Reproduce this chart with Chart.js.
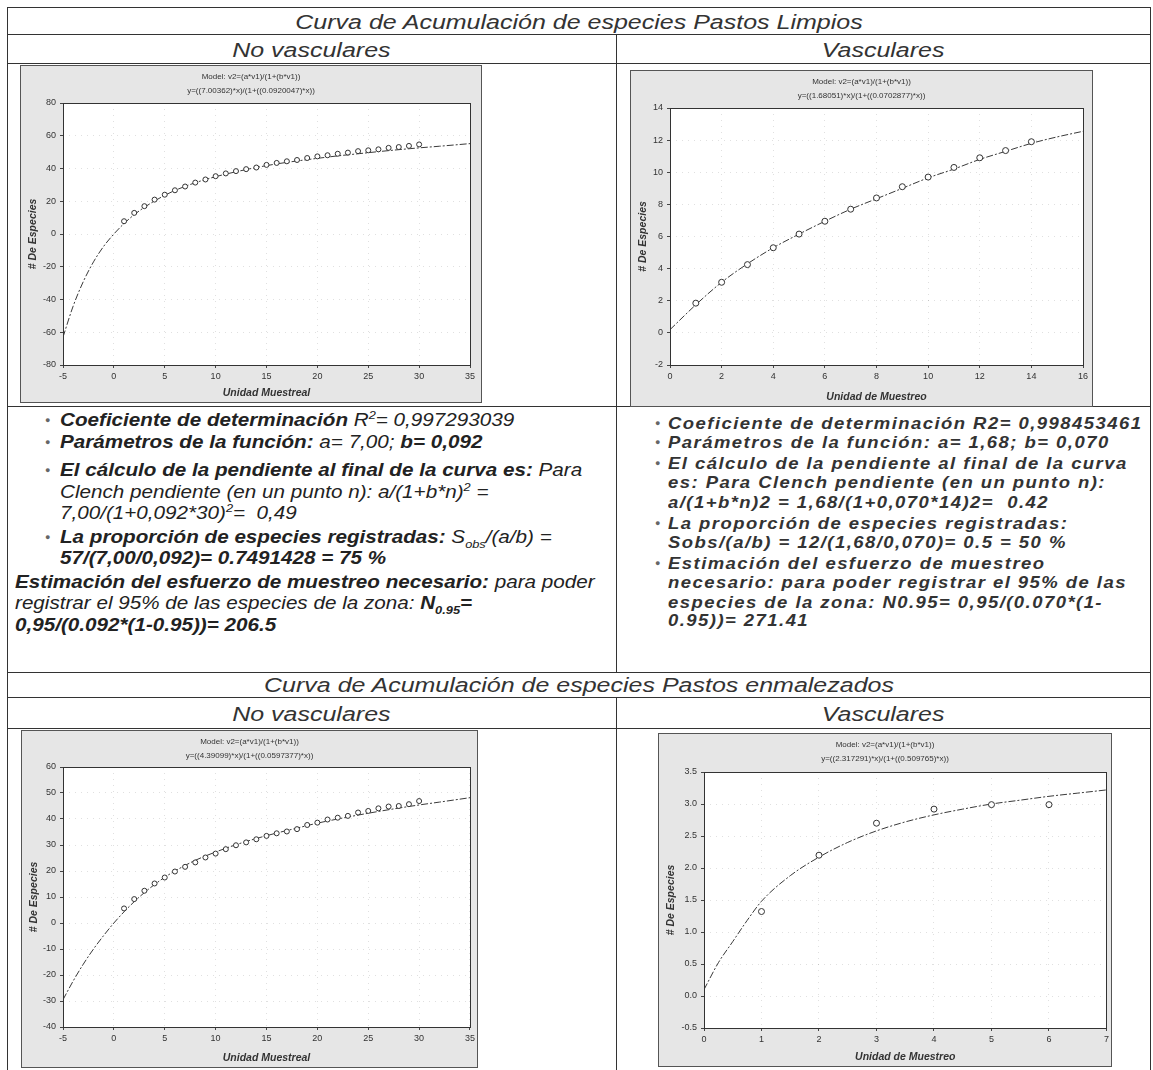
<!DOCTYPE html>
<html>
<head>
<meta charset="utf-8">
<script src="https://cdn.jsdelivr.net/npm/chart.js@4.4.1/dist/chart.umd.min.js"></script>
<style>
  body { margin:0; background:#fff; width:1153px; height:1070px; overflow:hidden; position:relative;
         font-family:"Liberation Sans", Arial, sans-serif; color:#222; }
  .hl { position:absolute; height:0; border-top:1.5px solid #333; }
  .vl { position:absolute; width:0; border-left:1.5px solid #333; }
  .hdr { position:absolute; text-align:center; font-style:italic; font-size:20px; line-height:24px; white-space:nowrap; color:#333; }
  .hdr span { display:inline-block; transform:scaleX(1.25); }
  .ln { position:absolute; white-space:nowrap; font-style:italic; line-height:20px; height:20px; transform-origin:0 50%; }
  .lt { font-size:17.5px; transform:scaleX(1.18); }
  .rt { font-size:16.5px; font-weight:bold; letter-spacing:1.3px; transform:scaleX(1.12); color:#333; }
  .bul { position:absolute; font-size:9px; line-height:20px; color:#666; }
  sup, sub { font-size:0.62em; line-height:0; }
  canvas { position:absolute; }
</style>
</head>
<body>

<!-- table lines -->
<div class="hl" style="left:7px;width:1143px;top:7px"></div>
<div class="hl" style="left:7px;width:1143px;top:34px"></div>
<div class="hl" style="left:7px;width:1143px;top:63px"></div>
<div class="hl" style="left:7px;width:1143px;top:406px"></div>
<div class="hl" style="left:7px;width:1143px;top:672px"></div>
<div class="hl" style="left:7px;width:1143px;top:697px"></div>
<div class="hl" style="left:7px;width:1143px;top:728px"></div>
<div class="vl" style="left:7px;top:7px;height:1063px"></div>
<div class="vl" style="left:1150px;top:7px;height:1063px"></div>
<div class="vl" style="left:616px;top:34px;height:638px"></div>
<div class="vl" style="left:616px;top:697px;height:373px"></div>

<!-- headers -->
<div class="hdr" style="left:7px;width:1143px;top:10px"><span>Curva de Acumulación de especies Pastos Limpios</span></div>
<div class="hdr" style="left:7px;width:609px;top:38px"><span>No vasculares</span></div>
<div class="hdr" style="left:616px;width:534px;top:38px"><span>Vasculares</span></div>
<div class="hdr" style="left:7px;width:1143px;top:673px"><span>Curva de Acumulación de especies Pastos enmalezados</span></div>
<div class="hdr" style="left:7px;width:609px;top:702px"><span>No vasculares</span></div>
<div class="hdr" style="left:616px;width:534px;top:702px"><span>Vasculares</span></div>

<!-- left text -->
<div class="bul" style="left:45px;top:410px">●</div>
<div class="ln lt" style="left:60px;top:410px"><b>Coeficiente de determinación</b> R<sup>2</sup>= 0,997293039</div>
<div class="bul" style="left:45px;top:432px">●</div>
<div class="ln lt" style="left:60px;top:432px"><b>Parámetros de la función:</b> a= 7,00; <b>b= 0,092</b></div>
<div class="bul" style="left:45px;top:460px">●</div>
<div class="ln lt" style="left:60px;top:460px"><b>El cálculo de la pendiente al final de la curva es:</b> Para</div>
<div class="ln lt" style="left:60px;top:482px">Clench pendiente (en un punto n): a/(1+b*n)<sup>2</sup> =</div>
<div class="ln lt" style="left:60px;top:503px">7,00/(1+0,092*30)<sup>2</sup>=&nbsp; 0,49</div>
<div class="bul" style="left:45px;top:527px">●</div>
<div class="ln lt" style="left:60px;top:527px"><b>La proporción de especies registradas:</b> S<sub>obs</sub>/(a/b) =</div>
<div class="ln lt" style="left:60px;top:548px"><b>57/(7,00/0,092)= 0.7491428 = 75 %</b></div>
<div class="ln lt" style="left:15px;top:572px"><b>Estimación del esfuerzo de muestreo necesario:</b> para poder</div>
<div class="ln lt" style="left:15px;top:593px">registrar el 95% de las especies de la zona: <b>N<sub>0.95</sub>=</b></div>
<div class="ln lt" style="left:15px;top:615px"><b>0,95/(0.092*(1-0.95))= 206.5</b></div>

<!-- right text -->
<div class="bul" style="left:655px;top:413px">●</div>
<div class="ln rt" style="left:668px;top:413px">Coeficiente de determinación R2= 0,998453461</div>
<div class="bul" style="left:655px;top:432px">●</div>
<div class="ln rt" style="left:668px;top:432px">Parámetros de la función: a= 1,68; b= 0,070</div>
<div class="bul" style="left:655px;top:453px">●</div>
<div class="ln rt" style="left:668px;top:453px">El cálculo de la pendiente al final de la curva</div>
<div class="ln rt" style="left:668px;top:472px">es: Para Clench pendiente (en un punto n):</div>
<div class="ln rt" style="left:668px;top:492px">a/(1+b*n)2 = 1,68/(1+0,070*14)2=&nbsp; 0.42</div>
<div class="bul" style="left:655px;top:513px">●</div>
<div class="ln rt" style="left:668px;top:513px">La proporción de especies registradas:</div>
<div class="ln rt" style="left:668px;top:532px">Sobs/(a/b) = 12/(1,68/0,070)= 0.5 = 50 %</div>
<div class="bul" style="left:655px;top:553px">●</div>
<div class="ln rt" style="left:668px;top:553px">Estimación del esfuerzo de muestreo</div>
<div class="ln rt" style="left:668px;top:572px">necesario: para poder registrar el 95% de las</div>
<div class="ln rt" style="left:668px;top:592px">especies de la zona: N0.95= 0,95/(0.070*(1-</div>
<div class="ln rt" style="left:668px;top:610px">0.95))= 271.41</div>

<canvas id="tl" width="462" height="338" style="left:20px;top:65px"></canvas>
<canvas id="tr" width="463" height="337" style="left:630px;top:70px"></canvas>
<canvas id="bl" width="457" height="338" style="left:21px;top:730px"></canvas>
<canvas id="br" width="454" height="334" style="left:658px;top:733px"></canvas>

<script>
// Pastos Limpios - No vasculares
const tlPtsX = [1,2,3,4,5,6,7,8,9,10,11,12,13,14,15,16,17,18,19,20,21,22,23,24,25,26,27,28,29,30];
const tlPtsY = [7.8,12.9,17,21,24,26.7,29,31.4,33.3,35.3,37,38.4,39.6,40.6,42.2,43.4,44.4,45.2,46.4,47.4,48.1,49,49.7,50.6,51.1,51.7,52.6,53.1,53.8,54.7];
const tlCurveX = [-5,-4,-3,-2,-1,0,1,2,3,4,5,6,8,10,12,14,16,18,20,22,24,26,28,30,32,35];
const tlCurveY = [-63,-44,-29,-17,-7.5,0,6.4,11.8,16.3,20.2,23.6,26.6,31.3,35,38,40.6,42.8,44.6,46.2,47.7,49,50.3,51.5,52.6,53.6,55.2];
const tlXTicks = [-5,0,5,10,15,20,25,30,35];
const tlYTicks = [-80,-60,-40,-20,0,20,40,60,80];

// Pastos Limpios - Vasculares
const trPtsX = [1,2,3,4,5,6,7,8,9,10,11,12,13,14];
const trPtsY = [1.85,3.15,4.25,5.3,6.15,6.95,7.7,8.4,9.1,9.7,10.3,10.9,11.35,11.9];
const trCurveX = [0,1,2,3,4,5,6,7,8,9,10,11,12,13,14,15,16];
const trCurveY = [0.2,1.75,3.15,4.3,5.3,6.15,6.95,7.7,8.35,9.0,9.65,10.2,10.8,11.3,11.8,12.2,12.55];
const trXTicks = [0,2,4,6,8,10,12,14,16];
const trYTicks = [-2,0,2,4,6,8,10,12,14];

// Pastos enmalezados - No vasculares
const blPtsX = [1,2,3,4,5,6,7,8,9,10,11,12,13,14,15,16,17,18,19,20,21,22,23,24,25,26,27,28,29,30];
const blPtsY = [5.6,9.2,12.4,15.2,17.5,19.8,21.6,23.3,25.2,26.7,28.4,29.9,31,32.2,33.5,34.5,35.2,36.1,37.7,38.6,39.8,40.5,41.2,42.5,43.1,44.1,44.8,45,45.7,46.9];
const blCurveX = [-5,-4,-3,-2,-1,0,1,2,3,4,5,6,8,10,12,14,16,18,20,22,24,26,28,30,32,35];
const blCurveY = [-29.5,-22.3,-15.8,-10,-4.8,0,4.3,8.2,11.7,14.8,17.6,20,24.1,27.3,30.1,32.5,34.6,36.5,38.4,40,41.5,42.9,44.2,45.4,46.5,48.2];
const blXTicks = [-5,0,5,10,15,20,25,30,35];
const blYTicks = [-40,-30,-20,-10,0,10,20,30,40,50,60];

// Pastos enmalezados - Vasculares
const brPtsX = [1,2,3,4,5,6];
const brPtsY = [1.32,2.2,2.7,2.92,2.99,2.99];
const brCurveX = [0,0.25,0.5,0.75,1,1.5,2,2.5,3,3.5,4,4.5,5,5.5,6,6.5,7];
const brCurveY = [0.1,0.52,0.85,1.18,1.48,1.88,2.17,2.4,2.58,2.72,2.83,2.92,3.0,3.06,3.12,3.17,3.22];
const brXTicks = [0,1,2,3,4,5,6,7];
const brYTicks = [-0.5,0,0.5,1,1.5,2,2.5,3,3.5];

const framePlugin = {
  id: 'frame',
  beforeDraw(chart) {
    const { ctx, chartArea: a, width, height } = chart;
    ctx.save();
    ctx.fillStyle = '#e6e6e6';
    ctx.fillRect(0, 0, width, height);
    ctx.fillStyle = '#fff';
    ctx.fillRect(a.left, a.top, a.right - a.left, a.bottom - a.top);
    ctx.restore();
  },
  afterDraw(chart, args, opts) {
    const { ctx, chartArea: a, width, height } = chart;
    ctx.save();
    ctx.strokeStyle = '#333';
    ctx.lineWidth = 1;
    ctx.strokeRect(Math.round(a.left) + 0.5, Math.round(a.top) + 0.5, Math.round(a.right - a.left), Math.round(a.bottom - a.top));
    ctx.strokeStyle = '#555';
    ctx.strokeRect(0.5, 0.5, width - 1, height - 1);
    ctx.fillStyle = '#333';
    ctx.font = '8px "Liberation Sans"';
    ctx.textAlign = 'center';
    ctx.textBaseline = 'middle';
    opts.lines.forEach((t, i) => ctx.fillText(t, width / 2, 12 + i * 14));
    ctx.restore();
  }
};

function plot(id, c) {
  const tickFont = { family: 'Liberation Sans', size: 9 };
  const titleFont = { family: 'Liberation Sans', size: 10.5, style: 'italic', weight: 'bold' };
  new Chart(document.getElementById(id), {
    type: 'scatter',
    data: {
      datasets: [
        { data: c.curveX.map((x, i) => ({ x, y: c.curveY[i] })), showLine: true, pointRadius: 0,
          borderColor: '#3a3a3a', borderWidth: 1, cubicInterpolationMode: 'monotone',
          borderDash: [7, 2, 2, 2], order: 2 },
        { data: c.ptsX.map((x, i) => ({ x, y: c.ptsY[i] })), pointRadius: c.r,
          borderColor: '#333', backgroundColor: '#fff', borderWidth: 1, order: 1 }
      ]
    },
    options: {
      responsive: false,
      animation: false,
      events: [],
      layout: { padding: { top: c.pad[0], right: c.pad[1], bottom: 0, left: 0 } },
      plugins: { legend: { display: false }, tooltip: { enabled: false }, frame: { lines: c.model } },
      scales: {
        x: {
          type: 'linear', min: c.xTicks[0], max: c.xTicks[c.xTicks.length - 1],
          afterBuildTicks: s => { s.ticks = c.xTicks.map(v => ({ value: v })); },
          afterFit: s => { s.height = c.xh; },
          ticks: { font: tickFont, color: '#333', padding: 3, maxRotation: 0 },
          grid: { color: 'rgba(0,0,0,0.12)', tickLength: 3, tickColor: '#444' },
          border: { display: false, dash: [1, 5] },
          title: { display: true, text: c.xTitle, font: titleFont, color: '#333', padding: { top: 0, bottom: 4 } }
        },
        y: {
          type: 'linear', min: c.yTicks[0], max: c.yTicks[c.yTicks.length - 1],
          afterBuildTicks: s => { s.ticks = c.yTicks.map(v => ({ value: v })); },
          afterFit: s => { s.width = c.yw; },
          ticks: { font: tickFont, color: '#333', padding: 4,
                   callback: v => c.dec ? v.toFixed(c.dec) : String(v) },
          grid: { color: 'rgba(0,0,0,0.12)', tickLength: 3, tickColor: '#444' },
          border: { display: false, dash: [1, 5] },
          title: { display: true, text: '# De Especies', font: titleFont, color: '#333', padding: { top: 7, bottom: 0 } }
        }
      }
    },
    plugins: [framePlugin]
  });
}

plot('tl', { ptsX: tlPtsX, ptsY: tlPtsY, curveX: tlCurveX, curveY: tlCurveY, xTicks: tlXTicks, yTicks: tlYTicks,
  r: 2.5, pad: [38, 12], xh: 38, yw: 43, dec: 0, xTitle: 'Unidad Muestreal',
  model: ['Model: v2=(a*v1)/(1+(b*v1))', 'y=((7.00362)*x)/(1+((0.0920047)*x))'] });
plot('tr', { ptsX: trPtsX, ptsY: trPtsY, curveX: trCurveX, curveY: trCurveY, xTicks: trXTicks, yTicks: trYTicks,
  r: 3, pad: [38, 10], xh: 42, yw: 40, dec: 0, xTitle: 'Unidad de Muestreo',
  model: ['Model: v2=(a*v1)/(1+(b*v1))', 'y=((1.68051)*x)/(1+((0.0702877)*x))'] });
plot('bl', { ptsX: blPtsX, ptsY: blPtsY, curveX: blCurveX, curveY: blCurveY, xTicks: blXTicks, yTicks: blYTicks,
  r: 2.5, pad: [37, 8], xh: 41, yw: 42, dec: 0, xTitle: 'Unidad Muestreal',
  model: ['Model: v2=(a*v1)/(1+(b*v1))', 'y=((4.39099)*x)/(1+((0.0597377)*x))'] });
plot('br', { ptsX: brPtsX, ptsY: brPtsY, curveX: brCurveX, curveY: brCurveY, xTicks: brXTicks, yTicks: brYTicks,
  r: 3, pad: [39, 4], xh: 39, yw: 46, dec: 1, xTitle: 'Unidad de Muestreo',
  model: ['Model: v2=(a*v1)/(1+(b*v1))', 'y=((2.317291)*x)/(1+((0.509765)*x))'] });
</script>
</body>
</html>
